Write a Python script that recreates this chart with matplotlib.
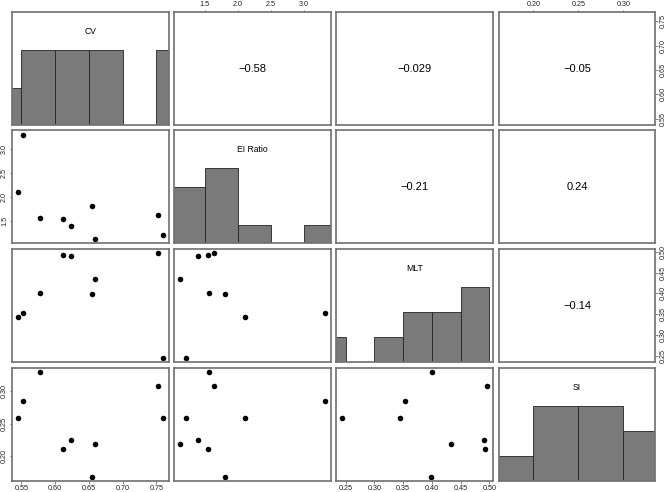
import numpy as np
import matplotlib
matplotlib.use('Agg')
import matplotlib.pyplot as plt
from matplotlib.ticker import MultipleLocator, FormatStrFormatter

plt.rcParams['font.family'] = ['Liberation Sans', 'DejaVu Sans']

names = ['CV', 'EI Ratio', 'MLT', 'SI']
cv = [0.545, 0.553, 0.577, 0.611, 0.624, 0.655, 0.659, 0.752, 0.760]
ei_ratio = [2.11, 3.31, 1.56, 1.55, 1.39, 1.81, 1.12, 1.63, 1.21]
mlt = [0.344, 0.353, 0.401, 0.492, 0.490, 0.399, 0.434, 0.496, 0.244]
si = [0.258, 0.285, 0.329, 0.211, 0.224, 0.168, 0.219, 0.307, 0.258]
data = [cv, ei_ratio, mlt, si]

# histogram break width / axis tick step and label format for each variable
steps = [0.05, 0.5, 0.05, 0.05]
fmts = ['%.2f', '%.1f', '%.2f', '%.2f']

# correlation labels shown in the upper panels, keyed by (row, col)
cor_labels = {(0, 1): '\u22120.58', (0, 2): '\u22120.029', (0, 3): '\u22120.05',
              (1, 2): '\u22120.21', (1, 3): '0.24', (2, 3): '\u22120.14'}

W, H = 666, 492
fig = plt.figure(figsize=(W / 100, H / 100), dpi=100)

col_left = [12.3, 174.0, 336.3, 498.7]
col_w = 156.5
row_top = [12.3, 130.5, 249.3, 368.0]
row_h = 113.0
frame_col = '#707070'
n = len(data)


def lims(v):
    lo, hi = min(v), max(v)
    pad = (hi - lo) * 0.04
    return lo - pad, hi + pad


for i in range(n):
    for j in range(n):
        ax = fig.add_axes([col_left[j] / W, 1 - (row_top[i] + row_h) / H,
                           col_w / W, row_h / H])
        x = np.array(data[j])
        y = np.array(data[i])
        ax.set_xlim(*lims(x))
        if i == j:
            st = steps[i]
            lo = np.floor(x.min() / st) * st
            hi = np.ceil(x.max() / st) * st
            edges = np.arange(lo, hi + st / 2, st)
            counts, edges = np.histogram(x, bins=edges)
            ax.bar(edges[:-1], counts / counts.max(), width=np.diff(edges),
                   align='edge', color='#7a7a7a', edgecolor='#222222',
                   linewidth=0.6)
            ax.set_ylim(0, 1.5)
            ax.text(0.5, 0.83, names[i], transform=ax.transAxes,
                    ha='center', va='center', fontsize=6.2)
        elif i > j:
            ax.scatter(x, y, s=16, color='black', linewidths=0)
            ax.set_ylim(*lims(y))
        else:
            ax.set_ylim(*lims(y))
            ax.text(0.5, 0.5, cor_labels[(i, j)], transform=ax.transAxes,
                    ha='center', va='center', fontsize=8)

        for sp in ax.spines.values():
            sp.set_color(frame_col)
            sp.set_linewidth(1.2)

        ax.xaxis.set_major_locator(MultipleLocator(steps[j]))
        ax.xaxis.set_major_formatter(FormatStrFormatter(fmts[j]))
        ax.yaxis.set_major_locator(MultipleLocator(steps[i]))
        ax.yaxis.set_major_formatter(FormatStrFormatter(fmts[i]))
        ax.tick_params(length=1.8, width=0.6, color=frame_col, pad=1.2,
                       labelsize=5.2, labelcolor='#222222')

        top = (i == 0 and j % 2 == 1)
        bottom = (i == n - 1 and j % 2 == 0)
        left = (j == 0 and i % 2 == 1)
        right = (j == n - 1 and i % 2 == 0)
        ax.tick_params(axis='x', top=top, labeltop=top,
                       bottom=bottom, labelbottom=bottom)
        ax.tick_params(axis='y', left=left, labelleft=left,
                       right=right, labelright=right)
        if left or right:
            for lab in ax.get_yticklabels():
                lab.set_rotation(90)
                lab.set_va('center')

fig.savefig('out.png', dpi=100)
